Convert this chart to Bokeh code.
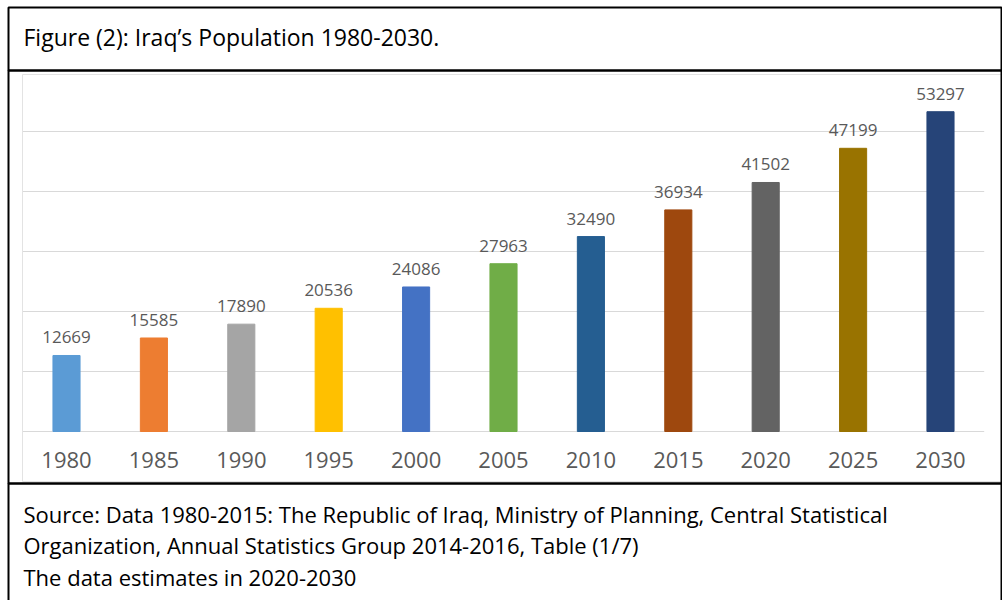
from bokeh.plotting import figure
from bokeh.models import Label, BoxAnnotation, ColumnDataSource, FactorRange, Range1d
from bokeh.core.properties import value
from bokeh.embed import file_html
from bokeh.resources import INLINE

years = ["1980", "1985", "1990", "1995", "2000", "2005", "2010", "2015", "2020", "2025", "2030"]
population = [12669, 15585, 17890, 20536, 24086, 27963, 32490, 36934, 41502, 47199, 53297]
bar_colors = ["#5B9BD5", "#ED7D31", "#A5A5A5", "#FFC000", "#4472C4", "#70AD47",
              "#255E91", "#9E480E", "#636363", "#997300", "#264478"]
grid_values = [0, 10000, 20000, 30000, 40000, 50000]
title_text = "Figure (2): Iraq\u2019s Population 1980-2030."
source_lines = [
    "Source: Data 1980-2015: The Republic of Iraq, Ministry of Planning, Central Statistical",
    "Organization, Annual Statistics Group 2014-2016, Table (1/7)",
    "The data estimates in 2020-2030",
]

FONT = "Open Sans"
W, H = 1002, 600
FL = 4                      # frame left on the page; frame spans the rest of the canvas
ZERO_Y = 431                # page y of the value axis baseline
PX_PER_UNIT = 60 / 10000    # vertical scale: 60 px per 10 000

src = ColumnDataSource(dict(year=years, pop=population, color=bar_colors,
                            label=[str(v) for v in population]))

x_range = FactorRange(*years, range_padding=0.2094, range_padding_units="absolute")
y_range = Range1d(-(H - ZERO_Y) / PX_PER_UNIT, ZERO_Y / PX_PER_UNIT)

p = figure(x_range=x_range, y_range=y_range, width=W, height=H,
           output_backend="svg", toolbar_location=None,
           x_axis_location=None, y_axis_location=None,
           min_border_left=FL, min_border_right=0, min_border_top=0, min_border_bottom=0)
p.outline_line_color = None
p.grid.visible = False

# horizontal gridlines spanning the category band
grid_src = ColumnDataSource(dict(
    x0=[(years[0], -0.5)] * len(grid_values),
    x1=[(years[-1], 0.5)] * len(grid_values),
    y=grid_values))
p.segment(x0="x0", y0="y", x1="x1", y1="y", source=grid_src,
          line_color="#d9d9d9", line_width=1)

p.vbar(x="year", top="pop", width=0.31, color="color", source=src)
p.text(x="year", y="pop", text="label", text_align="center", text_baseline="bottom",
       y_offset=-12, text_font=value(FONT), text_font_size="17px", text_color="#595959",
       source=src)
# category (year) labels under the baseline
p.text(x="year", y=0, text="year", text_align="center", text_baseline="middle",
       y_offset=28, text_font=value(FONT), text_font_size="22px", text_color="#595959",
       source=src)


def sx(px):
    return px - FL


def sy(py):
    return H - py


def box(l, r, t, b, color, lw):
    p.add_layout(BoxAnnotation(left=sx(l), right=sx(r), top=sy(t), bottom=sy(b),
                               left_units="screen", right_units="screen",
                               top_units="screen", bottom_units="screen",
                               fill_color=None, line_color=color, line_alpha=1.0,
                               line_width=lw))


# faint border of the chart picture
box(22, 1012, 74, 481, "#e3e3e3", 1)
# table borders
box(8, 1001, 7, 70, "black", 2)
box(8, 1001, 70, 483, "black", 2)
box(8, 1001, 483, 620, "black", 2)

p.add_layout(Label(x=sx(23), y=sy(36), x_units="screen", y_units="screen", text=title_text,
                   text_baseline="middle", text_font=FONT, text_font_size="23px",
                   text_color="black"))
for i, line in enumerate(source_lines):
    p.add_layout(Label(x=sx(23), y=sy(513 + 31.5 * i), x_units="screen", y_units="screen",
                       text=line, text_baseline="middle", text_font=FONT,
                       text_font_size="22px", text_color="black"))

open("out.html", "w").write(file_html(p, INLINE))
